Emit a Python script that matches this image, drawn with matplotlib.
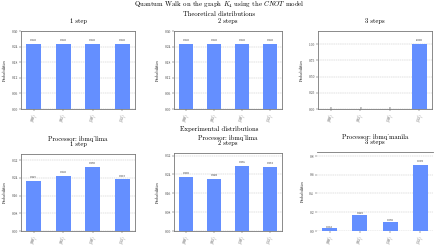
import numpy as np
import matplotlib
matplotlib.use("Agg")
import matplotlib.pyplot as plt

plt.rcParams["font.family"] = ["cmr10", "DejaVu Serif"]
plt.rcParams["mathtext.fontset"] = "cm"
plt.rcParams["axes.formatter.use_mathtext"] = True

# data
states = [r"$|00\rangle$", r"$|01\rangle$", r"$|10\rangle$", r"$|11\rangle$"]

theo_1 = [0.250, 0.250, 0.250, 0.250]
theo_2 = [0.250, 0.250, 0.250, 0.250]
theo_3 = [0.0, 0.0, 0.0, 1.000]
lima_1 = [0.227, 0.250, 0.290, 0.233]
lima_2 = [0.230, 0.222, 0.276, 0.272]
manila_3 = [0.032, 0.168, 0.098, 0.702]

ticks_theo = [0.00, 0.06, 0.12, 0.18, 0.24, 0.30]
ticks_theo3 = [0.00, 0.25, 0.50, 0.75, 1.00]
ticks_lima = [0.00, 0.08, 0.16, 0.24, 0.32]
ticks_manila = [0.0, 0.2, 0.4, 0.6, 0.8]

W, H = 438, 246
BAR = "#648fff"


def add_ax(fig, l, t, r, b):
    return fig.add_axes([l / W, 1 - b / H, (r - l) / W, (b - t) / H])


def hist(ax, vals, ticks, fmt, title, ylim=None):
    x = np.arange(len(vals))
    rects = ax.bar(x, vals, 0.5, color=BAR, zorder=2)
    for rec in rects:
        h = rec.get_height()
        txt = "%.3f" % h if h >= 1e-3 else "0"
        ax.text(rec.get_x() + rec.get_width() / 2., 1.05 * h, txt,
                ha="center", va="bottom", fontsize=2.2, zorder=3)
    top = ylim if ylim is not None else 1.2 * max(vals)
    ax.set_ylim(0, top)
    ax.set_yticks(ticks)
    ax.set_yticklabels([fmt % t for t in ticks], fontsize=2.6)
    ax.set_xticks(x)
    ax.set_xticklabels(states, rotation=70, fontsize=3.0)
    ax.tick_params(length=1.2, width=0.3, pad=1, colors="#333333")
    ax.set_ylabel("Probabilities", fontsize=2.8, labelpad=3)
    ax.grid(which="major", axis="y", zorder=0, linestyle="--", linewidth=0.3, color="#bbbbbb")
    for s in ax.spines.values():
        s.set_linewidth(0.6)
        s.set_color("#777777")
    ax.set_title(title, fontsize=4.7, pad=5.5, linespacing=0.95)


fig = plt.figure(figsize=(W / 100, H / 100), dpi=100)

fig.text(0.5, 1 - 5 / H, r"Quantum Walk on the graph $K_4$ using the $CNOT$ model",
         ha="center", va="center", fontsize=4.9)
fig.text(0.5, 1 - 14.5 / H, "Theoretical distributions", ha="center", va="center", fontsize=4.8)
fig.text(0.5, 1 - 129 / H, "Experimental distributions", ha="center", va="center", fontsize=4.8)

ax = add_ax(fig, 21, 31, 135, 109)
hist(ax, theo_1, ticks_theo, "%.2f", "1 step", ylim=0.30)
ax = add_ax(fig, 174, 31, 282, 109)
hist(ax, theo_2, ticks_theo, "%.2f", "2 steps", ylim=0.30)
ax = add_ax(fig, 318, 31, 432, 109)
hist(ax, theo_3, ticks_theo3, "%.2f", "3 steps", ylim=1.2)

ax = add_ax(fig, 21, 154, 135, 231)
hist(ax, lima_1, ticks_lima, "%.2f", "Processor: ibmq_lima\n1 step")
ax = add_ax(fig, 174, 153, 282, 231)
hist(ax, lima_2, ticks_lima, "%.2f", "Processor: ibmq_lima\n2 steps")
ax = add_ax(fig, 317, 152, 433, 231)
hist(ax, manila_3, ticks_manila, "%.1f", "Processor: ibmq_manila\n3 steps")
for side in ["left", "right", "bottom"]:
    ax.spines[side].set_visible(False)

fig.savefig("out.png", dpi=100)
